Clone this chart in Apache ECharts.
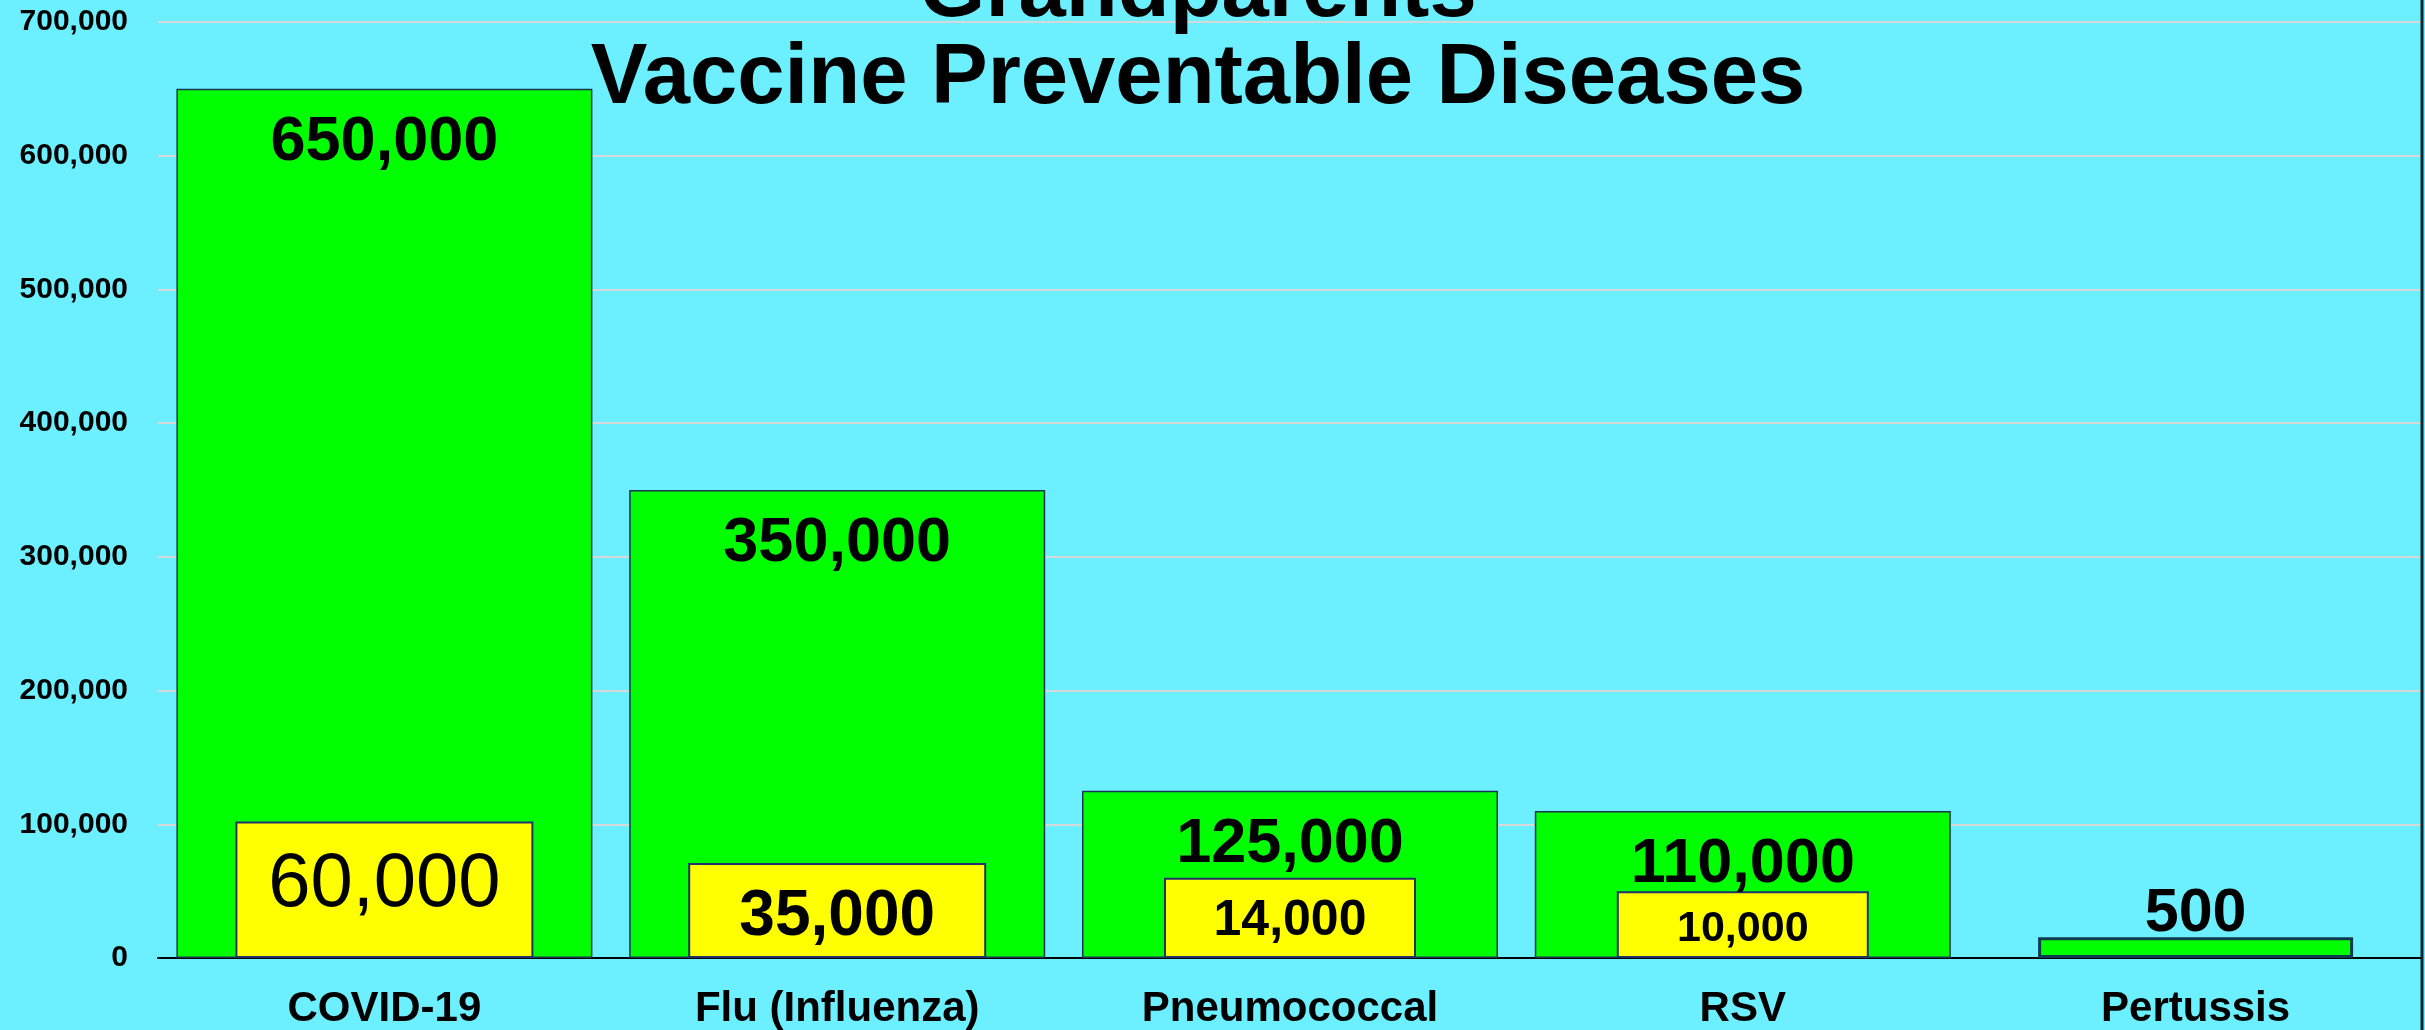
<!DOCTYPE html>
<html>
<head>
<meta charset="utf-8">
<script src="https://cdn.jsdelivr.net/npm/echarts@6/dist/echarts.min.js"></script>
<style>
  html, body { margin: 0; padding: 0; background: #6cefff; }
  #chart { width: 2425px; height: 1030px; }
</style>
</head>
<body>
<div id="chart"></div>
<script>
// values (bar heights as drawn, labels as printed)
const categories = ['COVID-19', 'Flu (Influenza)', 'Pneumococcal', 'RSV', 'Pertussis']
const totalBars = [650000, 350000, 125000, 110000, 15500]
const totalLabels = ['650,000', '350,000', '125,000', '110,000', '500']
const grandBars = [102000, 71000, 60000, 50000, null]
const grandLabels = ['60,000', '35,000', '14,000', '10,000', '']
const yMin = 0
const yMax = 700000
const yStep = 100000

const font = 'Liberation Sans, Arial, sans-serif'

// keep only some categories for a series, blank the rest
function pick(arr, keep) {
  return arr.map((v, i) => (keep.includes(i) && v != null ? v : '-'))
}

const greenStyle = { color: '#00ff00', borderColor: '#1c3550', borderWidth: 1.5 }
const yellowStyle = { color: '#ffff00', borderColor: '#22336b', borderWidth: 2 }

// per-bar label looks for the yellow boxes
const yellowLabelLook = [
  { fontSize: 76, fontWeight: 'normal', offset: [0, -5] },
  { fontSize: 64, fontWeight: 'bold', offset: [0, 7] },
  { fontSize: 50, fontWeight: 'bold', offset: [0, 3] },
  { fontSize: 43, fontWeight: 'bold', offset: [0, 5] },
]

function yellowData(keep) {
  return grandBars.map((v, i) => {
    if (!keep.includes(i) || v == null) return '-'
    return { value: v, label: yellowLabelLook[i] }
  })
}

function hiddenX() {
  return { type: 'category', data: categories, show: false, gridIndex: 0 }
}

const chart = echarts.init(document.getElementById('chart'))

chart.setOption({
  animation: false,
  backgroundColor: '#6cefff',
  title: {
    text: 'Grandparents\nVaccine Preventable Diseases',
    left: 1193,
    top: -56,
    textAlign: 'center',
    textStyle: {
      fontFamily: font,
      fontSize: 85,
      fontWeight: 'bold',
      lineHeight: 87,
      color: '#000',
    },
  },
  grid: { left: 158, right: 3, top: 22, bottom: 70, containLabel: false },
  xAxis: [
    {
      type: 'category',
      data: categories,
      axisLine: { lineStyle: { color: '#000', width: 2 } },
      axisTick: { show: false },
      axisLabel: {
        interval: 0,
        margin: 30,
        color: '#000',
        fontFamily: font,
        fontSize: 42,
        fontWeight: 'bold',
      },
    },
    hiddenX(),
    hiddenX(),
    hiddenX(),
  ],
  yAxis: {
    type: 'value',
    min: yMin,
    max: yMax,
    interval: yStep,
    axisLine: { show: false },
    axisTick: { show: false },
    axisLabel: {
      margin: 30,
      color: '#000',
      fontFamily: font,
      fontSize: 30,
      fontWeight: 'bold',
      formatter: (v) => v.toLocaleString('en-US'),
    },
    splitLine: { lineStyle: { color: '#d6d9da', width: 2 } },
  },
  graphic: [
    {
      type: 'line',
      shape: { x1: 2422, y1: 0, x2: 2422, y2: 1030 },
      style: { stroke: '#14262c', lineWidth: 3 },
      z: 100,
    },
  ],
  series: [
    {
      name: 'Deaths',
      type: 'bar',
      xAxisIndex: 0,
      barWidth: 416,
      data: pick(totalBars, [0, 1, 2, 3]),
      itemStyle: greenStyle,
      label: {
        show: true,
        position: 'insideTop',
        distance: 22,
        color: '#000',
        fontFamily: font,
        fontSize: 63,
        fontWeight: 'bold',
        formatter: (p) => totalLabels[p.dataIndex],
      },
    },
    {
      name: 'Deaths small',
      type: 'bar',
      xAxisIndex: 1,
      barWidth: 315,
      data: pick(totalBars, [4]),
      itemStyle: { color: '#00ff00', borderColor: '#0d3b4f', borderWidth: 3 },
      label: {
        show: true,
        position: 'top',
        distance: -7,
        color: '#000',
        fontFamily: font,
        fontSize: 61,
        fontWeight: 'bold',
        formatter: (p) => totalLabels[p.dataIndex],
      },
    },
    {
      name: 'Grandparents wide',
      type: 'bar',
      xAxisIndex: 2,
      barWidth: 298,
      data: yellowData([0, 1]),
      itemStyle: yellowStyle,
      label: {
        show: true,
        position: 'inside',
        color: '#000',
        fontFamily: font,
        formatter: (p) => grandLabels[p.dataIndex],
      },
    },
    {
      name: 'Grandparents narrow',
      type: 'bar',
      xAxisIndex: 3,
      barWidth: 252,
      data: yellowData([2, 3]),
      itemStyle: yellowStyle,
      label: {
        show: true,
        position: 'inside',
        color: '#000',
        fontFamily: font,
        formatter: (p) => grandLabels[p.dataIndex],
      },
    },
  ],
})
</script>
</body>
</html>
